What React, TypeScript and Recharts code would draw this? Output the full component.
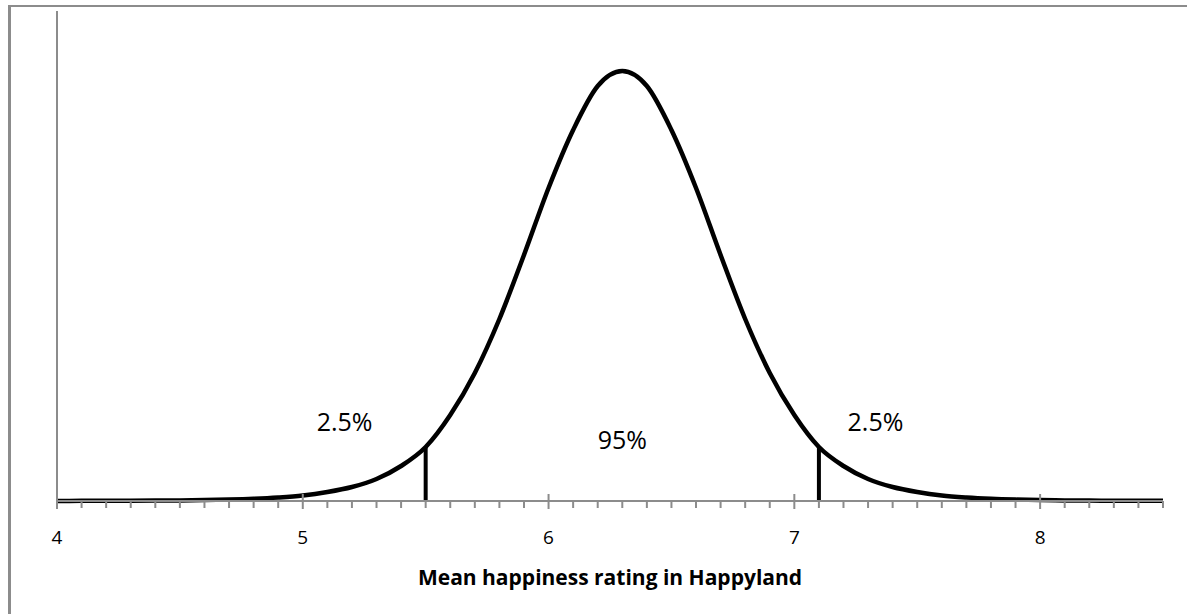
import { Line, LineChart, ReferenceDot, ReferenceLine, XAxis, YAxis } from "recharts";

// happiness rating (x) and the height of the sampling curve
const ratings = [
  4.0, 4.1, 4.2, 4.3, 4.4, 4.5, 4.6, 4.7, 4.8, 4.9,
  5.0, 5.1, 5.2, 5.3, 5.4, 5.5, 5.6, 5.7, 5.8, 5.9,
  6.0, 6.1, 6.2, 6.3, 6.4, 6.5, 6.6, 6.7, 6.8, 6.9,
  7.0, 7.1, 7.2, 7.3, 7.4, 7.5, 7.6, 7.7, 7.8, 7.9,
  8.0, 8.1, 8.2, 8.3, 8.4, 8.5,
];
const curveHeights = [
  0.1, 0.15, 0.2, 0.3, 0.4, 0.6, 0.9, 1.4, 2.2, 3.5,
  5.5, 9, 14, 22, 35, 54, 86, 128, 182, 246,
  313, 371, 415, 430, 415, 371, 313, 246, 182, 128,
  86, 54, 35, 22, 14, 9, 5.5, 3.5, 2.2, 1.4,
  0.9, 0.6, 0.4, 0.3, 0.2, 0.15,
];

const cutoffs = [5.5, 7.1];

const annotationTexts = ["2.5%", "95%", "2.5%"];
const annotationX = [5.17, 6.3, 7.33];
const annotationY = [79, 61, 79];

const majorTickLabels = ["4", "5", "6", "7", "8"];
const axisTitle = "Mean happiness rating in Happyland";

const data = ratings.map((x, i) => ({ x, y: curveHeights[i] }));

// minor ticks every 0.1 between 4 and 8.5
const allTicks: number[] = [];
for (let i = 0; i <= 45; i++) {
  allTicks.push(Number((4 + i * 0.1).toFixed(1)));
}

const GRAY = "#8c8c8c";
const FONT = "'Open Sans', sans-serif";

function heightAt(x: number) {
  const idx = ratings.findIndex((r) => Math.abs(r - x) < 1e-9);
  return idx >= 0 ? curveHeights[idx] : 0;
}

function AxisTick(props: any) {
  const { x, y, payload } = props;
  const value = Number(payload.value);
  const isMajor = Math.abs(value - Math.round(value)) < 1e-6;
  const label = majorTickLabels.find((t) => Number(t) === value);
  if (isMajor) {
    return (
      <g>
        <line x1={x} x2={x} y1={y - 7} y2={y + 8} stroke={GRAY} strokeWidth={2} />
        {label && (
          <text
            x={x}
            y={y + 43}
            textAnchor="middle"
            fill="#000"
            style={{ fontSize: 19, fontFamily: FONT }}
          >
            {label}
          </text>
        )}
      </g>
    );
  }
  return <line x1={x} x2={x} y1={y} y2={y + 7} stroke={GRAY} strokeWidth={2} />;
}

function AxisTitle(props: any) {
  const { viewBox } = props;
  const cx = viewBox.x + viewBox.width / 2;
  return (
    <text
      x={cx}
      y={585}
      textAnchor="middle"
      fill="#000"
      style={{ fontSize: 21, fontWeight: 700, fontFamily: FONT }}
    >
      {axisTitle}
    </text>
  );
}

export default function App() {
  return (
    <div
      style={{
        position: "absolute",
        left: 0,
        top: 0,
        width: 1187,
        height: 614,
        background: "#fff",
        overflow: "hidden",
      }}
    >
      <div
        style={{
          position: "absolute",
          left: 8,
          top: 5,
          width: 1300,
          height: 700,
          borderLeft: `3px solid ${GRAY}`,
          borderTop: `2px solid ${GRAY}`,
        }}
      />
      <div style={{ position: "absolute", left: 0, top: 0 }}>
        <LineChart
          width={1187}
          height={614}
          data={data}
          margin={{ top: 11, right: 24, bottom: 0, left: 0 }}
        >
          <XAxis
            dataKey="x"
            type="number"
            domain={[4, 8.5]}
            ticks={allTicks}
            interval={0}
            height={113}
            tickSize={0}
            tickMargin={0}
            tickLine={false}
            axisLine={{ stroke: GRAY, strokeWidth: 2 }}
            tick={(p: any) => <AxisTick {...p} />}
            label={<AxisTitle />}
          />
          <YAxis
            domain={[0, 490]}
            width={57}
            tick={false}
            tickLine={false}
            axisLine={{ stroke: GRAY, strokeWidth: 2 }}
          />
          {cutoffs.map((c) => (
            <ReferenceLine
              key={c}
              segment={[
                { x: c, y: 0 },
                { x: c, y: heightAt(c) },
              ]}
              stroke="#000"
              strokeWidth={4}
            />
          ))}
          <Line
            type="monotone"
            dataKey="y"
            stroke="#000"
            strokeWidth={4.5}
            dot={false}
            activeDot={false}
            isAnimationActive={false}
          />
          {annotationTexts.map((t, i) => (
            <ReferenceDot
              key={i}
              x={annotationX[i]}
              y={annotationY[i]}
              r={0}
              stroke="none"
              fill="none"
              label={{
                value: t,
                position: "center",
                fontSize: 25,
                fontFamily: FONT,
                fill: "#000",
              }}
            />
          ))}
        </LineChart>
      </div>
    </div>
  );
}
